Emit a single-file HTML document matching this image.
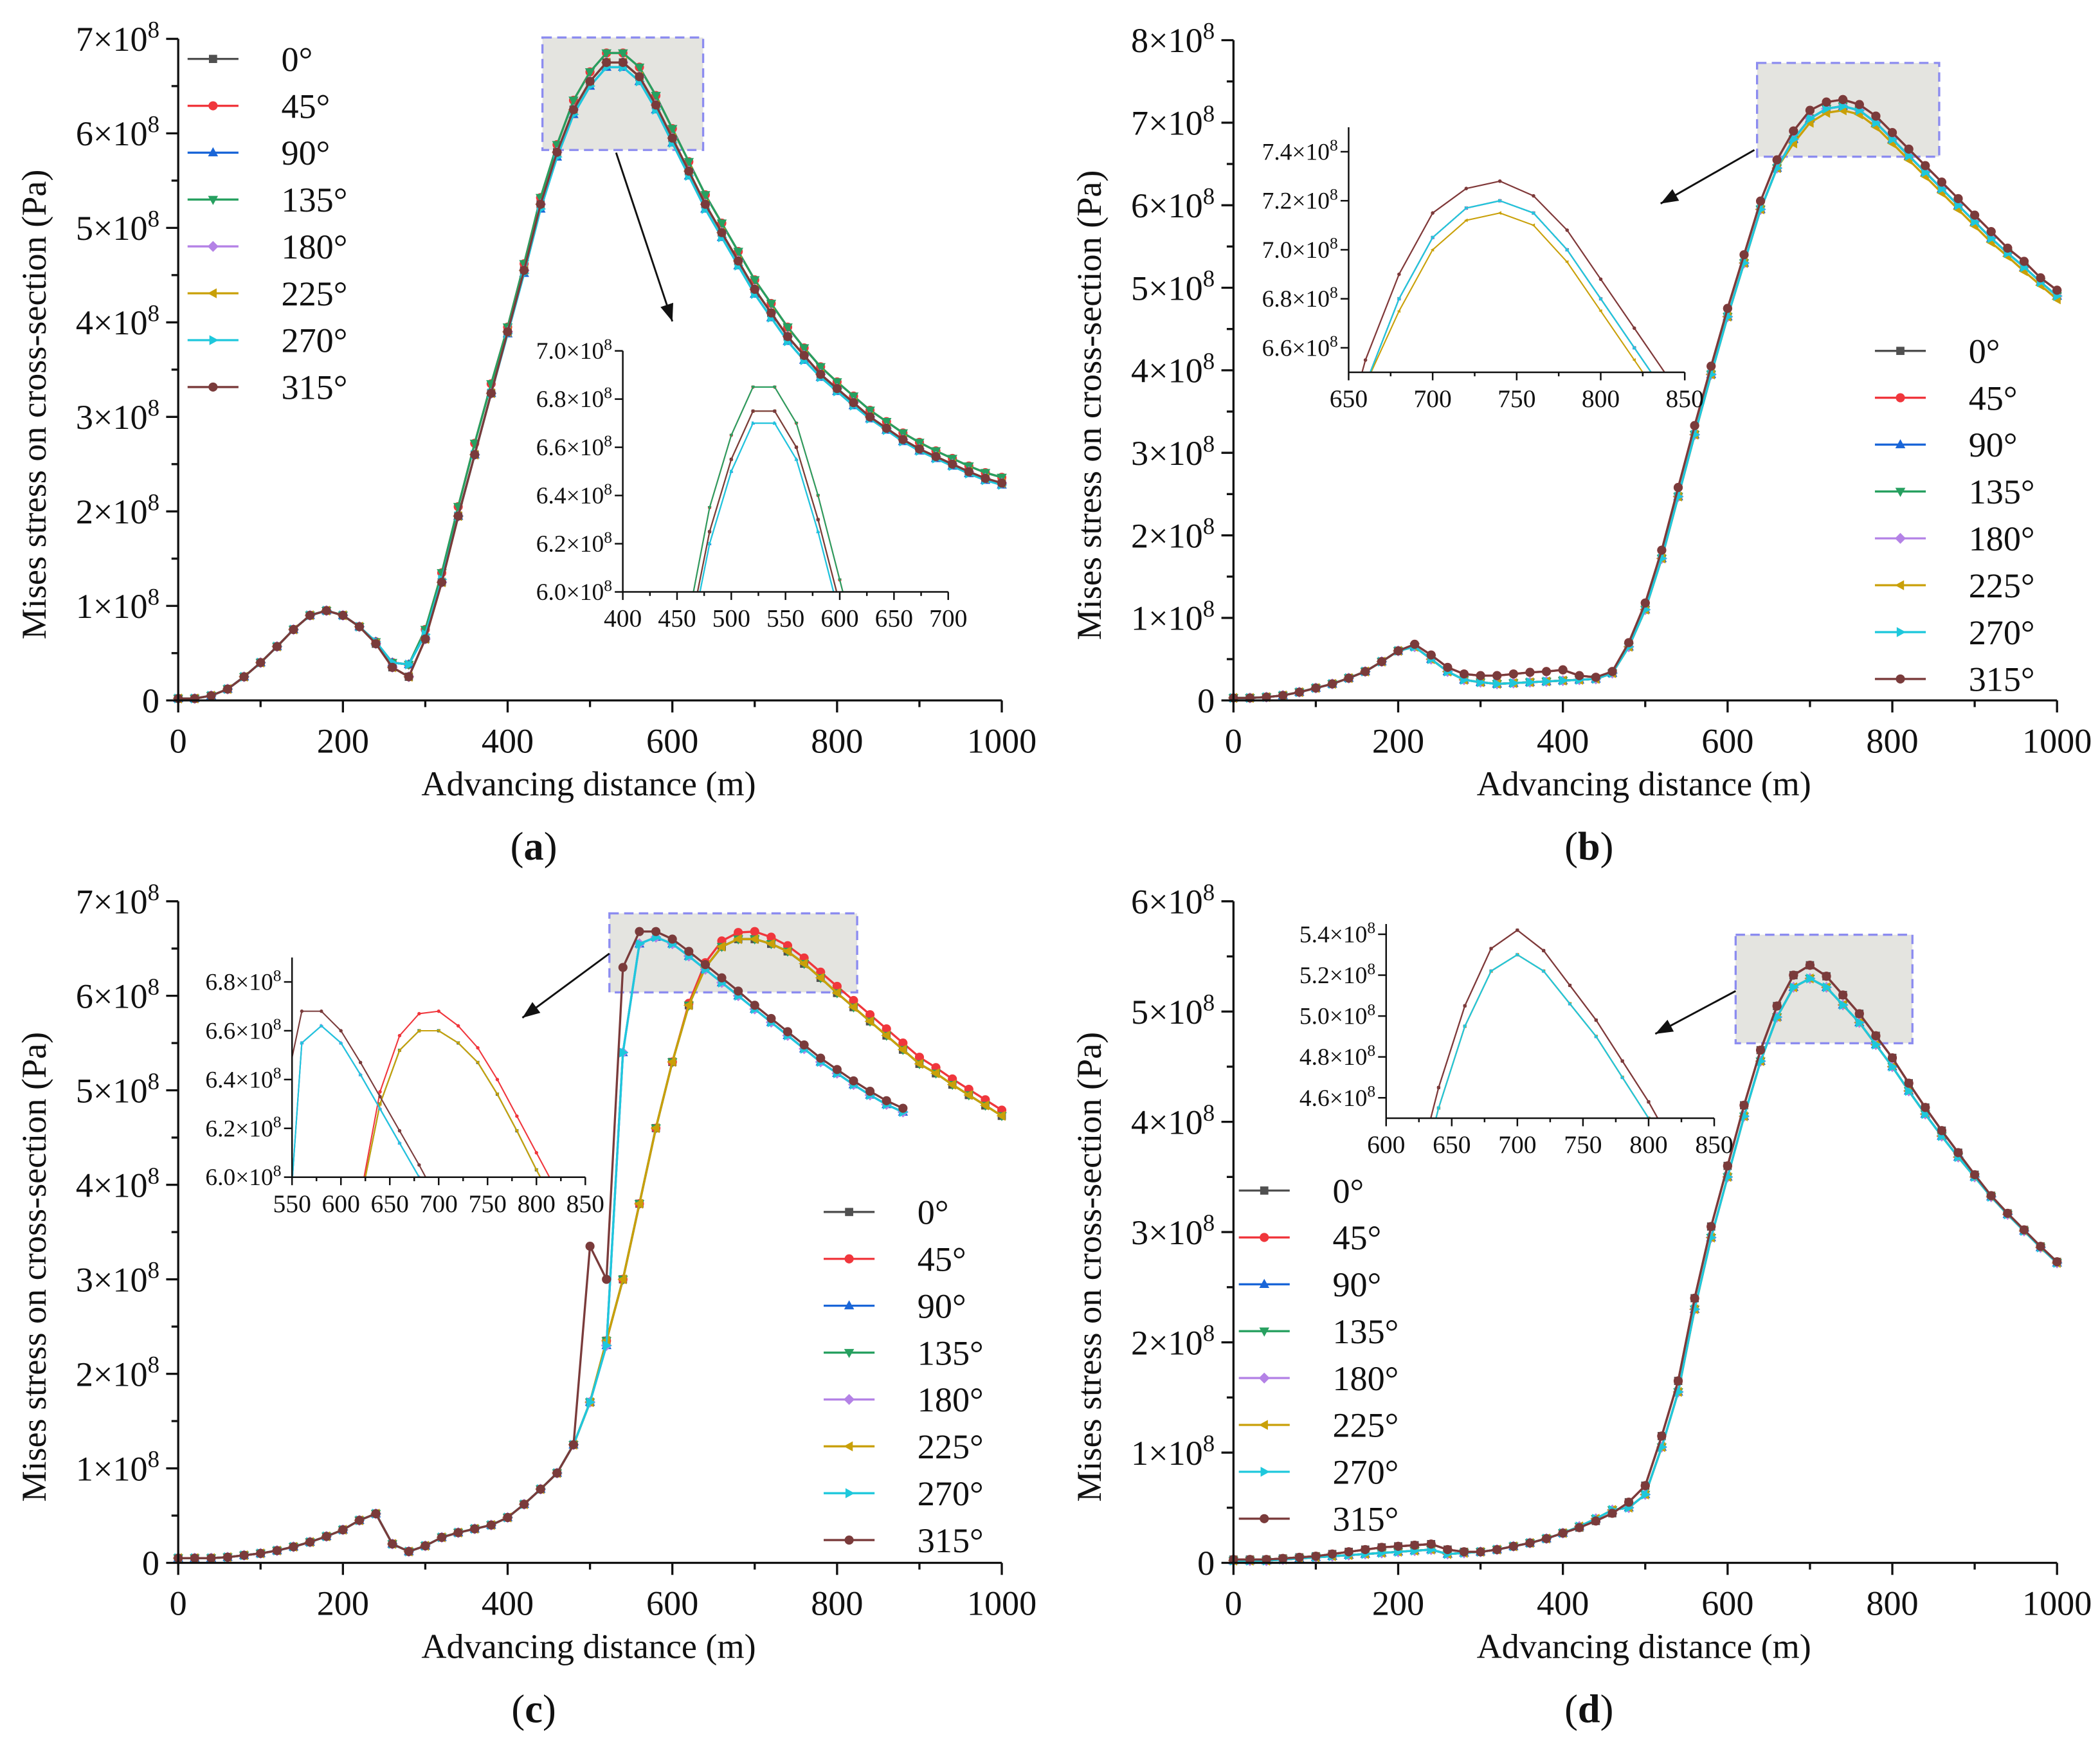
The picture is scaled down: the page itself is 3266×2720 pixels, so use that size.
<!DOCTYPE html>
<html><head><meta charset="utf-8">
<style>
html,body{margin:0;padding:0;background:#fff;width:3266px;height:2720px;overflow:hidden;position:relative;}
svg{display:block;position:absolute;left:0;top:0;font-family:"Liberation Serif","DejaVu Serif",serif;}
</style></head>
<body>
<svg id="fig" width="3266" height="2720" viewBox="0 0 1568 1306" xmlns="http://www.w3.org/2000/svg" overflow="hidden"></svg>
<script>
// ===== data =====
const X = [0,20,40,60,80,100,120,140,160,180,200,220,240,260,280,300,320,340,360,380,400,420,440,460,480,500,520,540,560,580,600,620,640,660,680,700,720,740,760,780,800,820,840,860,880,900,920,940,960,980,1000];
const ANGLES = ["0°","45°","90°","135°","180°","225°","270°","315°"];
// panel a (×1e8 Pa)
const A_MID = [0.02,0.02,0.05,0.12,0.25,0.4,0.57,0.75,0.9,0.95,0.9,0.78,0.6,0.35,0.25,0.65,1.25,1.95,2.6,3.25,3.9,4.55,5.25,5.8,6.25,6.55,6.75,6.75,6.6,6.3,5.95,5.6,5.25,4.95,4.65,4.35,4.1,3.85,3.65,3.45,3.3,3.15,3.0,2.88,2.76,2.66,2.58,2.5,2.42,2.35,2.3];
const A_HI = [0.02,0.02,0.05,0.12,0.25,0.4,0.57,0.75,0.9,0.95,0.9,0.78,0.62,0.4,0.38,0.75,1.35,2.05,2.72,3.35,3.95,4.62,5.32,5.88,6.35,6.65,6.85,6.85,6.7,6.4,6.05,5.7,5.35,5.05,4.75,4.45,4.2,3.95,3.73,3.53,3.37,3.22,3.07,2.95,2.83,2.73,2.64,2.56,2.48,2.41,2.36];
const A_LO = [0.02,0.02,0.05,0.12,0.25,0.4,0.57,0.75,0.9,0.95,0.9,0.78,0.62,0.4,0.38,0.7,1.28,1.95,2.6,3.25,3.88,4.52,5.2,5.75,6.2,6.5,6.7,6.7,6.55,6.25,5.9,5.55,5.2,4.9,4.6,4.3,4.05,3.8,3.6,3.42,3.27,3.12,2.98,2.86,2.74,2.64,2.56,2.48,2.4,2.33,2.28];
// panel b
const B_HI = [0.03,0.03,0.04,0.06,0.1,0.15,0.2,0.27,0.35,0.47,0.6,0.68,0.55,0.4,0.32,0.3,0.3,0.32,0.34,0.35,0.37,0.3,0.28,0.35,0.7,1.18,1.82,2.58,3.33,4.05,4.75,5.4,6.05,6.55,6.9,7.15,7.25,7.28,7.22,7.08,6.88,6.68,6.48,6.28,6.08,5.88,5.68,5.48,5.32,5.12,4.97];
const B_LO = [0.03,0.03,0.04,0.06,0.1,0.15,0.2,0.27,0.35,0.47,0.6,0.65,0.5,0.35,0.25,0.22,0.2,0.21,0.22,0.23,0.24,0.25,0.26,0.33,0.65,1.1,1.72,2.47,3.22,3.95,4.65,5.3,5.95,6.45,6.8,7.05,7.17,7.2,7.15,7.0,6.8,6.6,6.4,6.2,6.0,5.8,5.6,5.42,5.25,5.07,4.9];
const B_OL = [0.03,0.03,0.04,0.06,0.1,0.15,0.2,0.27,0.35,0.47,0.6,0.65,0.5,0.35,0.25,0.22,0.2,0.21,0.22,0.23,0.24,0.25,0.26,0.33,0.65,1.1,1.72,2.47,3.22,3.95,4.65,5.3,5.95,6.45,6.75,7.0,7.12,7.15,7.1,6.95,6.75,6.55,6.35,6.15,5.95,5.75,5.55,5.38,5.2,5.03,4.86];
// panel c
const C_G1 = [0.05,0.05,0.05,0.06,0.08,0.1,0.13,0.17,0.22,0.28,0.35,0.45,0.52,0.2,0.12,0.18,0.27,0.32,0.36,0.4,0.48,0.62,0.78,0.95,1.25,1.7,2.3,5.4,6.55,6.62,6.55,6.42,6.28,6.14,6.0,5.86,5.72,5.58,5.44,5.3,5.18,5.06,4.95,4.85,4.77,null,null,null,null,null,null];
const C_315 = [0.05,0.05,0.05,0.06,0.08,0.1,0.13,0.17,0.22,0.28,0.35,0.45,0.52,0.2,0.12,0.18,0.27,0.32,0.36,0.4,0.48,0.62,0.78,0.95,1.25,3.35,3.0,6.3,6.68,6.68,6.6,6.47,6.33,6.19,6.05,5.9,5.76,5.62,5.48,5.34,5.22,5.1,4.99,4.89,4.81,null,null,null,null,null,null];
const C_G2 = [0.05,0.05,0.05,0.06,0.08,0.1,0.13,0.17,0.22,0.28,0.35,0.45,0.52,0.2,0.12,0.18,0.27,0.32,0.36,0.4,0.48,0.62,0.78,0.95,1.25,1.7,2.35,3.0,3.8,4.6,5.3,5.9,6.3,6.52,6.6,6.6,6.55,6.47,6.34,6.19,6.03,5.88,5.73,5.58,5.43,5.28,5.18,5.06,4.95,4.84,4.73];
const C_RED = [0.05,0.05,0.05,0.06,0.08,0.1,0.13,0.17,0.22,0.28,0.35,0.45,0.52,0.2,0.12,0.18,0.27,0.32,0.36,0.4,0.48,0.62,0.78,0.95,1.25,1.7,2.35,3.0,3.8,4.6,5.3,5.92,6.35,6.58,6.67,6.68,6.62,6.53,6.4,6.25,6.1,5.95,5.8,5.65,5.5,5.35,5.24,5.12,5.01,4.9,4.79];
// panel d
const D_HI = [0.03,0.03,0.03,0.04,0.05,0.06,0.08,0.1,0.12,0.14,0.15,0.16,0.17,0.12,0.1,0.1,0.12,0.15,0.18,0.22,0.27,0.32,0.38,0.45,0.55,0.7,1.15,1.65,2.4,3.05,3.6,4.15,4.65,5.05,5.33,5.42,5.32,5.15,4.98,4.78,4.58,4.35,4.13,3.92,3.72,3.52,3.33,3.17,3.02,2.87,2.73];
const D_LO = [0.02,0.02,0.02,0.03,0.04,0.05,0.06,0.07,0.08,0.09,0.1,0.11,0.12,0.08,0.09,0.1,0.12,0.15,0.18,0.22,0.27,0.33,0.4,0.48,0.5,0.62,1.05,1.55,2.3,2.95,3.5,4.05,4.55,4.95,5.22,5.3,5.22,5.06,4.9,4.7,4.5,4.28,4.07,3.87,3.68,3.5,3.32,3.16,3.01,2.86,2.72];

const COLORS = ["#505050","#f0363c","#1a66d8","#27a060","#b482e6","#c9a008","#1ec8dc","#7a3b3b"];
const MARKS = ["sq","ci","tu","td","di","tl","tr","ci"];

const NS = "http://www.w3.org/2000/svg";
const svg = document.getElementById("fig");
function el(tag, attrs, parent){const e=document.createElementNS(NS,tag);for(const k in attrs)e.setAttribute(k,attrs[k]);(parent||svg).appendChild(e);return e;}
function txt(s, attrs, parent){const t=el("text",attrs,parent);t.textContent=s;return t;}
function sci(parent,x,y,mant,size,anchor,name){
  const t=el("text",{x:x,y:y,"font-size":size,"text-anchor":anchor||"end",fill:"#111"},parent);
  
  
  t.appendChild(document.createTextNode(mant+"×10"));
  const s=el("tspan",{"font-size":size*0.68,dy:-size*0.38},t); s.textContent="8";
  return t;
}
function marker(g,type,x,y,r,c){
  let m;
  if(type==="sq") m=el("rect",{x:x-r*0.9,y:y-r*0.9,width:r*1.8,height:r*1.8,fill:c},g);
  else if(type==="ci") m=el("circle",{cx:x,cy:y,r:r,fill:c},g);
  else if(type==="di") m=el("polygon",{points:`${x},${y-r*1.2} ${x+r*1.2},${y} ${x},${y+r*1.2} ${x-r*1.2},${y}`,fill:c},g);
  else {
    let p;
    if(type==="tu") p=[[0,-1.2],[1.1,0.8],[-1.1,0.8]];
    if(type==="td") p=[[0,1.2],[1.1,-0.8],[-1.1,-0.8]];
    if(type==="tl") p=[[-1.2,0],[0.8,-1.1],[0.8,1.1]];
    if(type==="tr") p=[[1.2,0],[-0.8,-1.1],[-0.8,1.1]];
    m=el("polygon",{points:p.map(q=>`${x+q[0]*r},${y+q[1]*r}`).join(" "),fill:c},g);
  }
  return m;
}
function drawSeries(g,sx,sy,vals,i,r,lw,clipId){
  const sg=el("g",clipId?{"clip-path":`url(#${clipId})`}:{},g);
  
  
  let d="";let pen=false;
  X.forEach((xv,k)=>{const v=vals[k]; if(v==null){pen=false;return;} d+=(pen?"L":"M")+sx(xv).toFixed(2)+","+sy(v).toFixed(2); pen=true;});
  el("path",{d:d,fill:"none",stroke:COLORS[i],"stroke-width":lw,"stroke-linejoin":"round"},sg);
  X.forEach((xv,k)=>{const v=vals[k]; if(v==null)return; marker(sg,MARKS[i],sx(xv),sy(v),r,COLORS[i]);});
}

function panel(cfg){
  const g=el("g",{});
  
  
  const sx=d=>cfg.x0+(d/1000)*(cfg.x1-cfg.x0);
  const sy=v=>cfg.yb-(v/cfg.ymax)*(cfg.yb-cfg.yt);
  const hb=el("rect",{x:cfg.box[0],y:cfg.box[1],width:cfg.box[2],height:cfg.box[3],fill:"#e4e4e0",stroke:"#8c8cf0","stroke-width":1.6,"stroke-dasharray":"7,4"},g);
  
  
  const sg=el("g",{},g);
  
  
  cfg.series.forEach((vals,i)=>drawSeries(sg,sx,sy,vals,i,3.4,1.6));
  const ax=el("g",{stroke:"#111","stroke-width":1.6},g);
  
  
  el("line",{x1:cfg.x0,y1:cfg.yt,x2:cfg.x0,y2:cfg.yb+0.8},ax);
  el("line",{x1:cfg.x0,y1:cfg.yb,x2:cfg.x1,y2:cfg.yb},ax);
  for(let d=0;d<=1000;d+=100){const x=sx(d);el("line",{x1:x,y1:cfg.yb,x2:x,y2:cfg.yb+(d%200===0?9:5)},ax);}
  for(let v=0;v<=cfg.ymax;v+=0.5){const y=sy(v);el("line",{x1:cfg.x0,y1:y,x2:cfg.x0-(v%1===0?9:5),y2:y},ax);}
  for(let d=0;d<=1000;d+=200){const t=txt(String(d),{x:sx(d),y:cfg.yb+39,"font-size":26,"text-anchor":"middle",fill:"#111"},g);}
  for(let v=0;v<=cfg.ymax;v+=1){
    if(v===0){const t=txt("0",{x:cfg.x0-14,y:sy(0)+9,"font-size":26,"text-anchor":"end",fill:"#111"},g);}
    else sci(g,cfg.x0-14,sy(v)+9,String(v),26,"end","y-tick-label");
  }
  const xt=txt("Advancing distance (m)",{x:(cfg.x0+cfg.x1)/2-1,y:cfg.yb+71,"font-size":26,"text-anchor":"middle",fill:"#111"},g);
  
  const yt=txt("Mises stress on cross-section  (Pa)",{x:0,y:0,"font-size":26,"text-anchor":"middle",fill:"#111",transform:`translate(${cfg.x0-99},${(cfg.yt+cfg.yb)/2+26}) rotate(-90)`},g);
  
  const pl=el("text",{x:(cfg.x0+cfg.x1)/2-42,y:cfg.yb+119,"font-size":30,"text-anchor":"middle",fill:"#111"},g);
  
  pl.appendChild(document.createTextNode("("));
  const b=el("tspan",{"font-weight":"bold"},pl); b.textContent=cfg.id;
  pl.appendChild(document.createTextNode(")"));
  const ar=el("g",{},g);
  
  const [ax1,ay1,ax2,ay2]=cfg.arrow;
  el("line",{x1:ax1,y1:ay1,x2:ax2,y2:ay2,stroke:"#111","stroke-width":1.4},ar);
  const ang=Math.atan2(ay2-ay1,ax2-ax1),L=13,W=5;
  const bx=ax2-L*Math.cos(ang),by=ay2-L*Math.sin(ang);
  el("polygon",{points:`${ax2},${ay2} ${bx+W*Math.sin(ang)},${by-W*Math.cos(ang)} ${bx-W*Math.sin(ang)},${by+W*Math.cos(ang)}`,fill:"#111"},ar);
  const lg=el("g",{},g);
  
  ANGLES.forEach((a,i)=>{
    const y=cfg.leg[1]+i*35;
    const e=el("g",{},lg);
    
    
    el("line",{x1:cfg.leg[0],y1:y,x2:cfg.leg[0]+38,y2:y,stroke:COLORS[i],"stroke-width":1.6},e);
    marker(e,MARKS[i],cfg.leg[0]+19,y,3.4,COLORS[i]);
    txt(a,{x:cfg.leg[0]+70,y:y+9,"font-size":26,fill:"#111"},e);
  });
  const I=cfg.inset;
  const ig=el("g",{},g);
  
  const isx=d=>I.x0+(d-I.d0)/(I.d1-I.d0)*(I.x1-I.x0);
  const isy=v=>I.yb-(v-I.v0)/(I.v1-I.v0)*(I.yb-I.yt);
  const cid="clip"+cfg.id;
  const cp=el("clipPath",{id:cid},ig); el("rect",{x:I.x0,y:I.yt,width:I.x1-I.x0,height:I.yb-I.yt},cp);
  cfg.series.forEach((vals,i)=>drawSeries(ig,isx,isy,vals,i,1.3,1,cid));
  const iax=el("g",{stroke:"#111","stroke-width":1.2},ig);
  el("line",{x1:I.x0,y1:I.yt,x2:I.x0,y2:I.yb},iax);
  el("line",{x1:I.x0,y1:I.yb,x2:I.x1,y2:I.yb},iax);
  for(let d=I.d0;d<=I.d1;d+=25){const x=isx(d);el("line",{x1:x,y1:I.yb,x2:x,y2:I.yb+((d-I.d0)%50===0?6:3)},iax);}
  for(let d=I.d0;d<=I.d1;d+=50){const t=txt(String(d),{x:isx(d),y:I.yb+26,"font-size":19,"text-anchor":"middle",fill:"#111"},ig);}
  I.yt_ticks.forEach(v=>{const y=isy(v);el("line",{x1:I.x0,y1:y,x2:I.x0-6,y2:y},iax);sci(ig,I.x0-8,y+6,v.toFixed(1),18,"end","inset-y-tick-label");});
}

panel({id:"a",x0:133,x1:748,yt:29,yb:523,ymax:7,
  series:[A_MID,A_HI,A_LO,A_HI,A_MID,A_MID,A_LO,A_MID],
  box:[405,28,120,84],arrow:[460,114,502,240],leg:[140,44],
  inset:{x0:465,x1:708,yt:262,yb:442,d0:400,d1:700,v0:6.0,v1:7.0,yt_ticks:[6.0,6.2,6.4,6.6,6.8,7.0]}});
panel({id:"b",x0:921,x1:1536,yt:30,yb:523,ymax:8,
  series:[B_LO,B_HI,B_LO,B_LO,B_LO,B_OL,B_LO,B_HI],
  box:[1312,47,136,70],arrow:[1310,112,1240,152],leg:[1400,262],
  inset:{x0:1007,x1:1258,yt:95,yb:278,d0:650,d1:850,v0:6.5,v1:7.5,yt_ticks:[6.6,6.8,7.0,7.2,7.4]}});
panel({id:"c",x0:133,x1:748,yt:673,yb:1167,ymax:7,
  series:[C_G2,C_RED,C_G1,C_G2,C_G1,C_G2,C_G1,C_315],
  box:[455,682,185,59],arrow:[455,712,390,760],leg:[615,905],
  inset:{x0:218,x1:437,yt:715,yb:879,d0:550,d1:850,v0:6.0,v1:6.9,yt_ticks:[6.0,6.2,6.4,6.6,6.8]}});
panel({id:"d",x0:921,x1:1536,yt:673,yb:1167,ymax:6,
  series:[D_HI,D_HI,D_LO,D_LO,D_LO,D_LO,D_LO,D_HI],
  box:[1296,698,132,81],arrow:[1296,740,1236,772],leg:[925,889],
  inset:{x0:1035,x1:1280,yt:690,yb:835,d0:600,d1:850,v0:4.5,v1:5.45,yt_ticks:[4.6,4.8,5.0,5.2,5.4]}});
</script>
</body></html>
